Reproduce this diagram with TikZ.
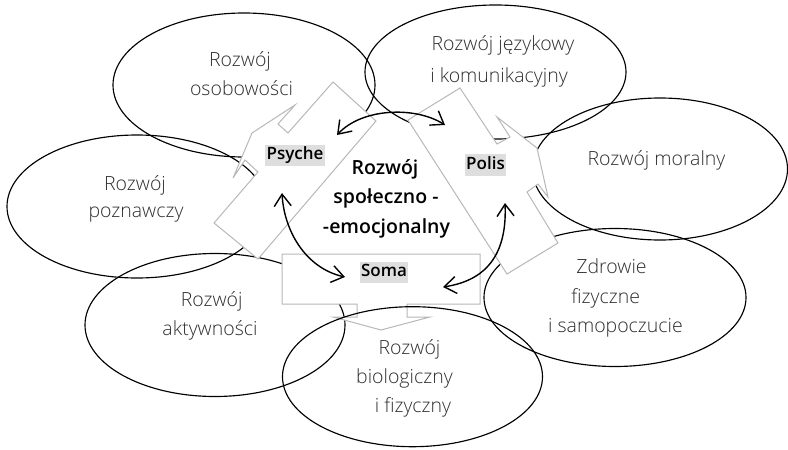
\documentclass[tikz,border=0pt]{standalone}
\usepackage{fontspec}
\usetikzlibrary{shapes.geometric,arrows.meta}
\IfFontExistsTF{Open Sans Light}{\newfontfamily\lightf{Open Sans Light}}{\IfFontExistsTF{Fira Sans Light}{\newfontfamily\lightf{Fira Sans Light}}{\newfontfamily\lightf{Open Sans}}}
\IfFontExistsTF{Open Sans Semibold}{\newfontfamily\semif{Open Sans Semibold}}{\newfontfamily\semif{Open Sans}[UprightFont={* Bold}]}
\definecolor{shapegray}{HTML}{B8B8B8}
\definecolor{txtgray}{HTML}{2E2E2E}
\definecolor{labgray}{HTML}{DEDEDE}
\begin{document}
\begin{tikzpicture}[x=1pt,y=-1pt,
  ell/.style={ellipse, draw=black, line width=1.15pt, inner sep=0pt},
  blk/.style={draw=shapegray, line width=1pt, fill=white, line join=miter},
  lt/.style={font=\lightf\fontsize{19.5}{22}\selectfont, text=txtgray, anchor=base, inner sep=0pt},
  ctr/.style={font=\semif\fontsize{19.5}{24}\selectfont, text=black, anchor=base, inner sep=0pt},
  lab/.style={font=\semif\fontsize{17}{20}\selectfont, text=black, fill=labgray, inner xsep=1.5pt, inner ysep=2pt, text height=13pt, text depth=4.5pt},
  arr/.style={line width=1.4pt, {Straight Barb[length=12pt,width=17pt]}-{Straight Barb[length=12pt,width=17pt]}}
]
\useasboundingbox (0,0) rectangle (788,450);
% ellipses
\node[ell, minimum width=262pt, minimum height=144pt] (eOso) at (244,85) {};
\node[ell, minimum width=261pt, minimum height=134pt] (eJez) at (495.5,72) {};
\node[ell, minimum width=255pt, minimum height=142pt] (eMor) at (660,169) {};
\node[ell, minimum width=262pt, minimum height=138pt] (eZdr) at (615,297.5) {};
\node[ell, minimum width=260pt, minimum height=143pt] (eAkt) at (215,325) {};
\node[ell, minimum width=260pt, minimum height=143pt] (ePoz) at (137,206.5) {};
% gray block shapes
\draw[blk] (333,82) -- (376,121) -- (258,259) -- (214,223) -- (258,172) -- (245,160) -- (233,178) -- (252,133) -- (295,105) -- (278,124) -- (288,133) -- cycle;
\draw[blk] (460,88) -- (497,144) -- (510,137) -- (497,117) -- (537,148) -- (548,197) -- (538,184) -- (527,192) -- (558,243) -- (507,274) -- (408,120) -- cycle;
\draw[blk] (282,254) -- (480,254) -- (480,304) -- (407,304) -- (407,317) -- (430,317) -- (381,330) -- (333,317) -- (357,317) -- (357,304) -- (282,304) -- cycle;
\node[ell, minimum width=260pt, minimum height=140pt] (eBio) at (412.5,376.7) {};
% ellipse texts
\node[lt] (tOso1) at (240,66) {Rozwój};
\node[lt] (tOso2) at (241.5,95) {osobowości};
\node[lt] (tJez1) at (503,50) {Rozwój językowy};
\node[lt] (tJez2) at (499,82) {i komunikacyjny};
\node[lt] (tMor) at (656.5,165) {Rozwój moralny};
\node[lt] (tPoz1) at (135,190) {Rozwój};
\node[lt] (tPoz2) at (136,217) {poznawczy};
\node[lt] (tAkt1) at (211.7,306.7) {Rozwój};
\node[lt] (tAkt2) at (210,335) {aktywności};
\node[lt] (tBio1) at (409.5,354) {Rozwój};
\node[lt] (tBio2) at (404.5,383) {biologiczny};
\node[lt] (tBio3) at (413,412) {i fizyczny};
\node[lt] (tZdr1) at (611.5,273) {Zdrowie};
\node[lt] (tZdr2) at (605.7,303) {fizyczne};
\node[lt] (tZdr3) at (615.5,332) {i samopoczucie};
% central text
\node[ctr] (c1) at (385,174) {Rozwój};
\node[ctr] (c2) at (386,203.5) {społeczno -};
\node[ctr] (c3) at (386.5,233) {-emocjonalny};
% labels
\node[lab] (psyche) at (295,155.3) {Psyche};
\node[lab] (polis) at (485.5,165) {Polis};
\node[lab] (soma) at (384,272.5) {Soma};
% arrows
\coordinate (aPs) at (337,135);
\coordinate (aPo) at (445,125);
\coordinate (bPs) at (282,193);
\coordinate (bSo) at (345,277);
\coordinate (cPo) at (505,203);
\coordinate (cSo) at (443,287);
\draw[arr] (aPs) .. controls (362,108) and (415,106) .. (aPo);
\draw[arr] (bPs) .. controls (284,230) and (305,268) .. (bSo);
\draw[arr] (cPo) .. controls (507,250) and (490,280) .. (cSo);
\end{tikzpicture}
\end{document}
